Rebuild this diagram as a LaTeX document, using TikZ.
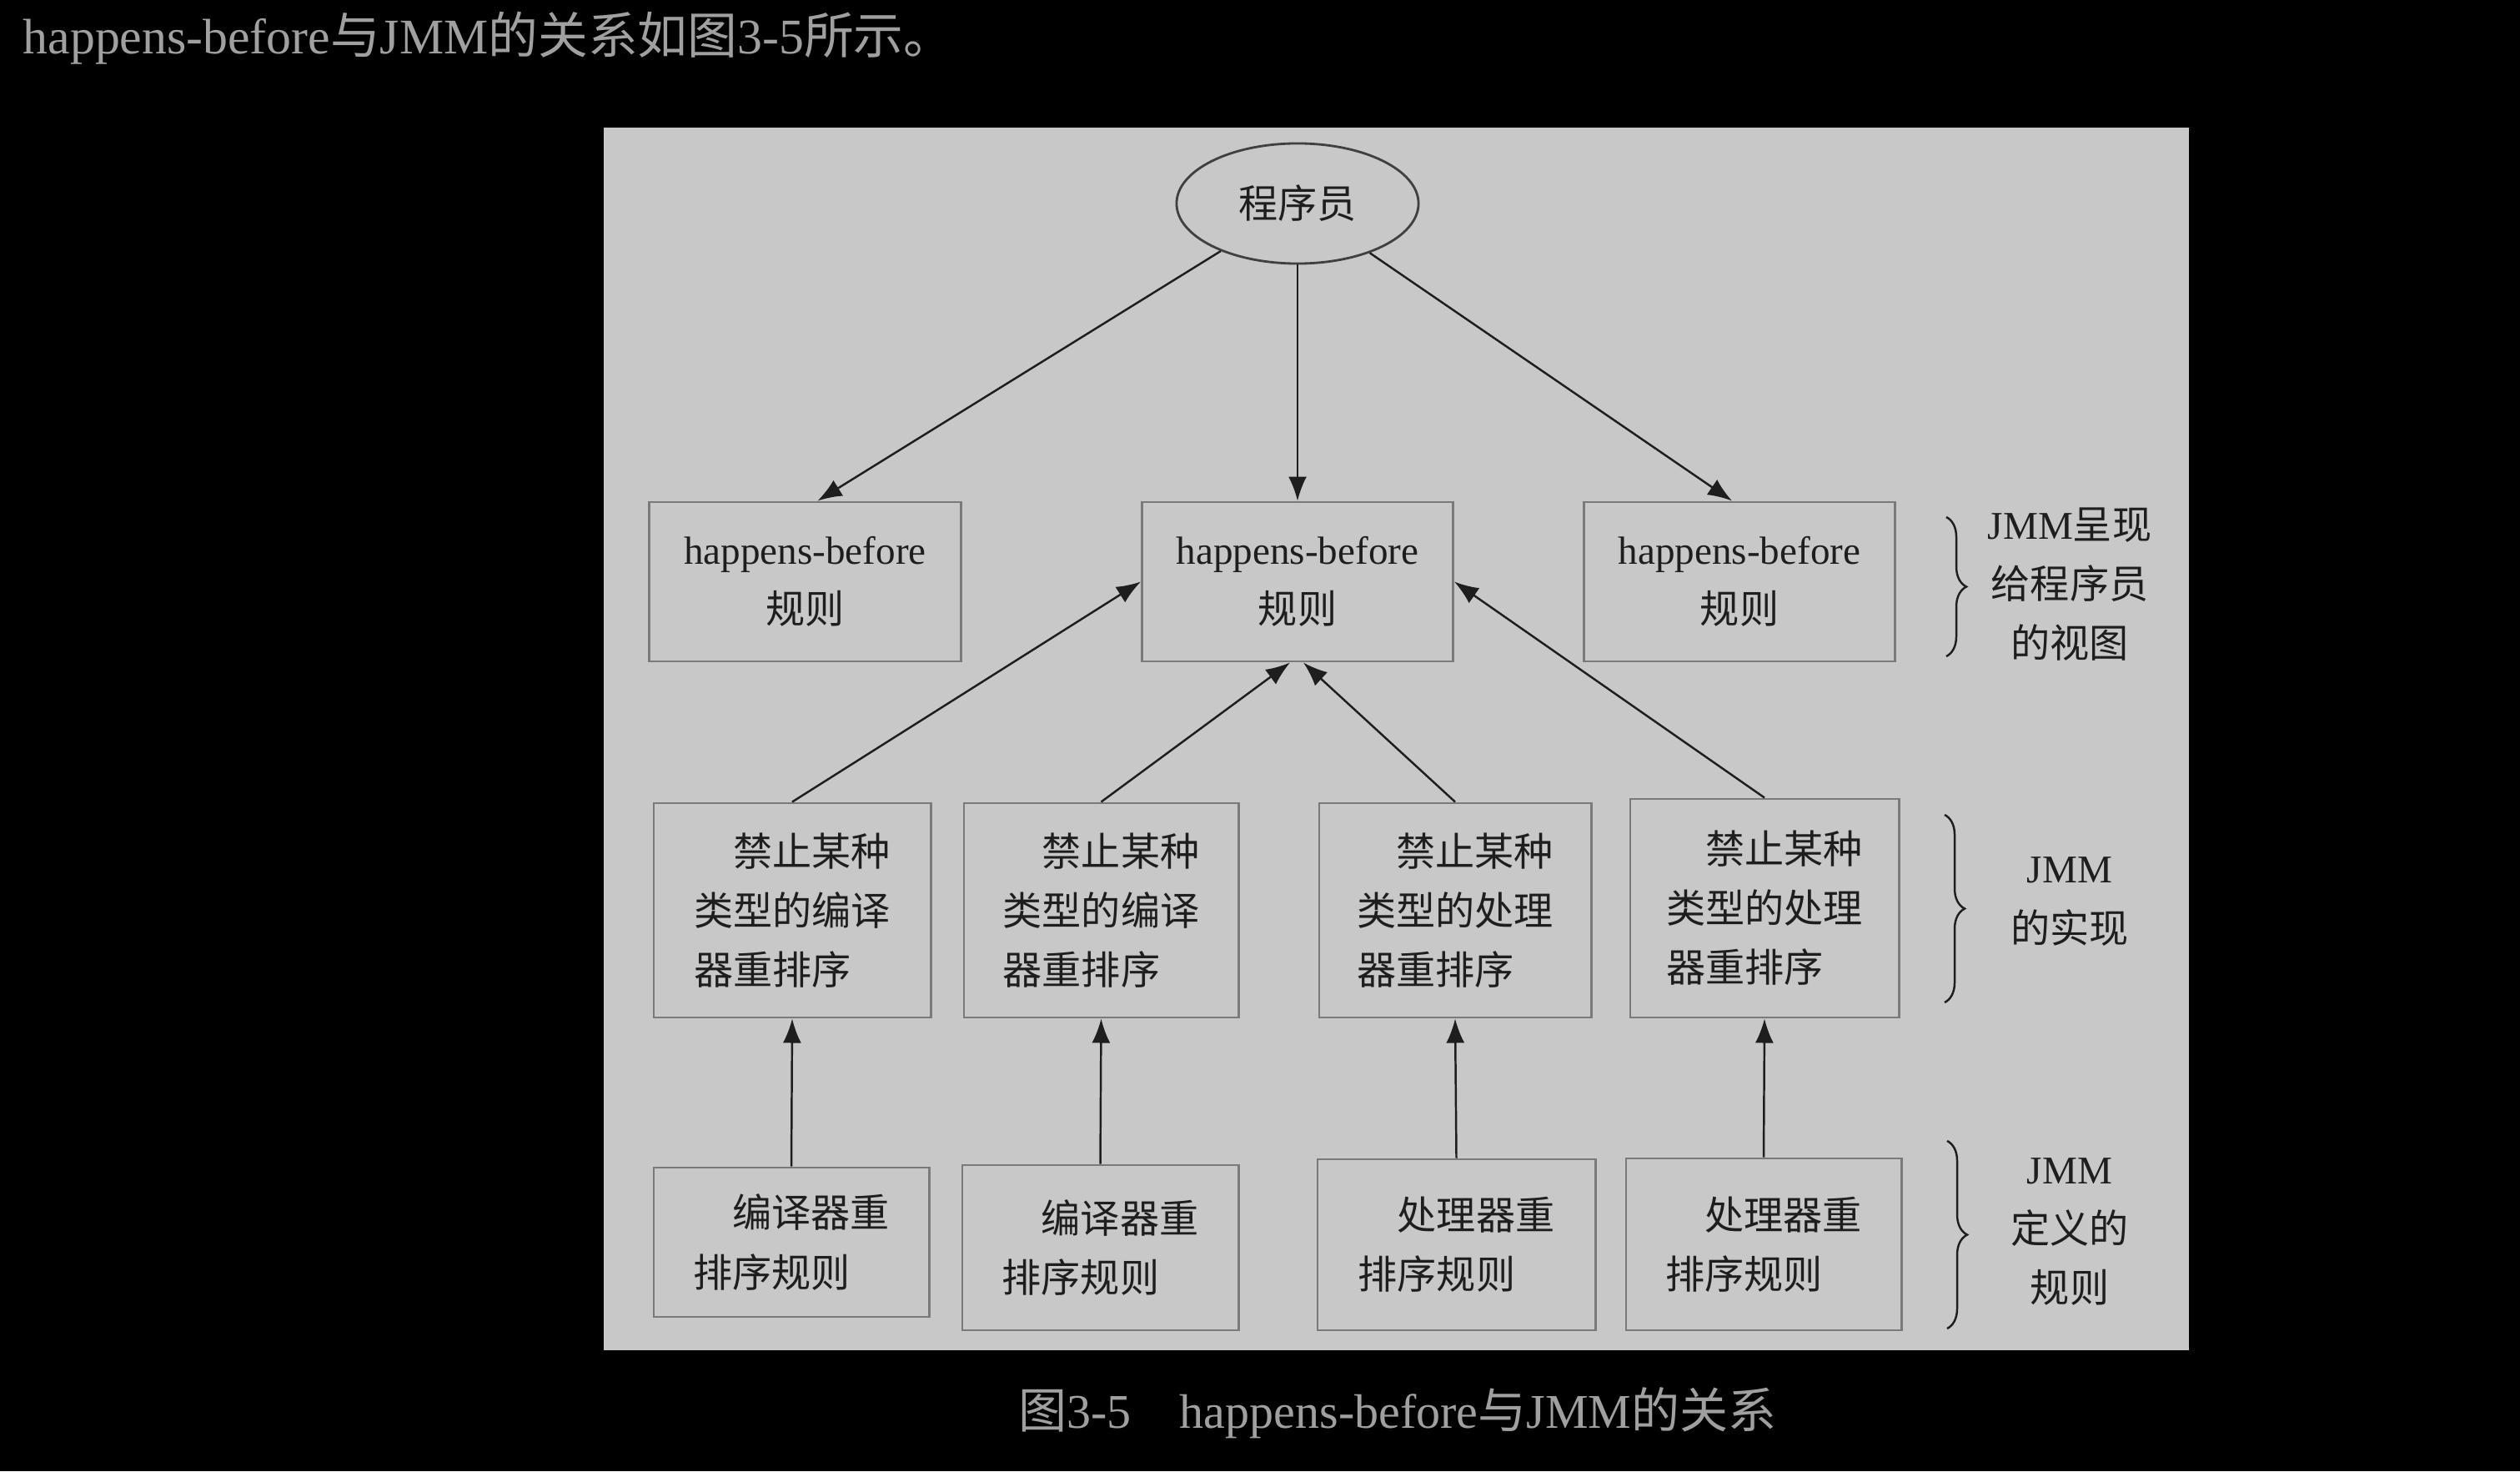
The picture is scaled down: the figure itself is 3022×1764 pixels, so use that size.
\documentclass[tikz,border=0pt]{standalone}
\usepackage{fontspec}
\setmainfont{Liberation Serif}
\newfontfamily\cjk{Noto Sans CJK SC}
\usetikzlibrary{arrows.meta,decorations.pathreplacing,shapes.geometric}
\definecolor{panel}{HTML}{C8C8C8}
\definecolor{txtgray}{HTML}{A0A0A0}
\definecolor{boxline}{HTML}{7A7A7A}
\definecolor{ink}{HTML}{1E1E1E}
\begin{document}
\begin{tikzpicture}[x=0.01cm,y=-0.01cm,
  dfont/.style={font=\fontsize{13.4}{20.2}\selectfont},
  zfont/.style={font=\fontsize{13.4}{20.2}\selectfont\cjk},
  boxn/.style={draw=boxline,line width=0.8pt,inner sep=0pt,text=ink},
  r1/.style={boxn,minimum width=3.73cm,minimum height=1.91cm,align=center,dfont},
  r2/.style={boxn,minimum height=2.57cm,align=left,zfont},
  r3/.style={boxn,align=left,zfont},
  arr/.style={draw=ink,line width=0.7pt,-{Latex[length=0.29cm,width=0.22cm]}},
  brc/.style={draw=ink,line width=0.7pt,decorate,decoration={brace,amplitude=0.24cm}},
  side/.style={align=center,dfont,text=ink,inner sep=0pt}]
\fill[black] (0,0) rectangle (3022,1764);
\useasboundingbox (0,0) rectangle (3022,1764);
\fill[panel] (724,153) rectangle (2625,1619);

\node[anchor=base west,text=txtgray,font=\fontsize{17}{20}\selectfont,inner sep=0pt] (top) at (27,65)
  {happens-before{\cjk 与}JMM{\cjk 的关系如图}3-5{\cjk 所示。}};

\node[ellipse,draw=ink!85,line width=0.8pt,minimum width=2.9cm,minimum height=1.44cm,zfont,text=ink] (prog) at (1556,244) {程序员};

\node[r1] (r1a) at (965.5,697.5) {happens-before\\{\cjk 规则}};
\node[r1] (r1b) at (1556,697.5) {happens-before\\{\cjk 规则}};
\node[r1] (r1c) at (2086,697.5) {happens-before\\{\cjk 规则}};

\node[r2,minimum width=3.32cm] (r2a) at (950,1091.5) {\hspace*{1em}禁止某种\\类型的编译\\器重排序};
\node[r2,minimum width=3.29cm] (r2b) at (1320.5,1091.5) {\hspace*{1em}禁止某种\\类型的编译\\器重排序};
\node[r2,minimum width=3.26cm] (r2c) at (1745,1091.5) {\hspace*{1em}禁止某种\\类型的处理\\器重排序};
\node[r2,minimum width=3.22cm,minimum height=2.62cm] (r2d) at (2116,1089) {\hspace*{1em}禁止某种\\类型的处理\\器重排序};

\node[r3,minimum width=3.30cm,minimum height=1.79cm] (r3a) at (949,1489.5) {\hspace*{1em}编译器重\\排序规则};
\node[r3,minimum width=3.31cm,minimum height=1.98cm] (r3b) at (1319.5,1496) {\hspace*{1em}编译器重\\排序规则};
\node[r3,minimum width=3.33cm,minimum height=2.05cm] (r3c) at (1746.5,1492.5) {\hspace*{1em}处理器重\\排序规则};
\node[r3,minimum width=3.30cm,minimum height=2.06cm] (r3d) at (2115,1492) {\hspace*{1em}处理器重\\排序规则};

\draw[arr] (prog) -- ([xshift=0.15cm]r1a.north);
\draw[arr] (prog) -- (r1b.north);
\draw[arr] (prog) -- ([xshift=-0.09cm]r1c.north);

\draw[arr] (r2a.north) -- (r1b.west);
\draw[arr] (r2b.north) -- ([xshift=-0.09cm]r1b.south);
\draw[arr] (r2c.north) -- ([xshift=0.07cm]r1b.south);
\draw[arr] (r2d.north) -- (r1b.east);

\draw[arr] (r3a.north) -- (r2a.south);
\draw[arr] (r3b.north) -- (r2b.south);
\draw[arr] (r3c.north) -- (r2c.south);
\draw[arr] (r3d.north) -- (r2d.south);

\coordinate (b1s) at (2334,620);
\coordinate (b1e) at (2334,787);
\coordinate (b2s) at (2332,977);
\coordinate (b2e) at (2332,1202);
\coordinate (b3s) at (2335,1368);
\coordinate (b3e) at (2335,1593);
\draw[brc] (b1s) -- (b1e);
\draw[brc] (b2s) -- (b2e);
\draw[brc] (b3s) -- (b3e);

\node[side] (s1) at (2482,701) {JMM{\cjk 呈现}\\{\cjk 给程序员}\\{\cjk 的视图}};
\node[side] (s2) at (2482,1081) {JMM\\{\cjk 的实现}};
\node[side] (s3) at (2482,1477) {JMM\\{\cjk 定义的}\\{\cjk 规则}};

\node[anchor=base,text=txtgray,font=\fontsize{16.5}{20}\selectfont,inner sep=0pt] (cap) at (1676,1712)
  {{\cjk 图}3-5\hspace{1em}happens-before{\cjk 与}JMM{\cjk 的关系}};
\end{tikzpicture}
\end{document}
